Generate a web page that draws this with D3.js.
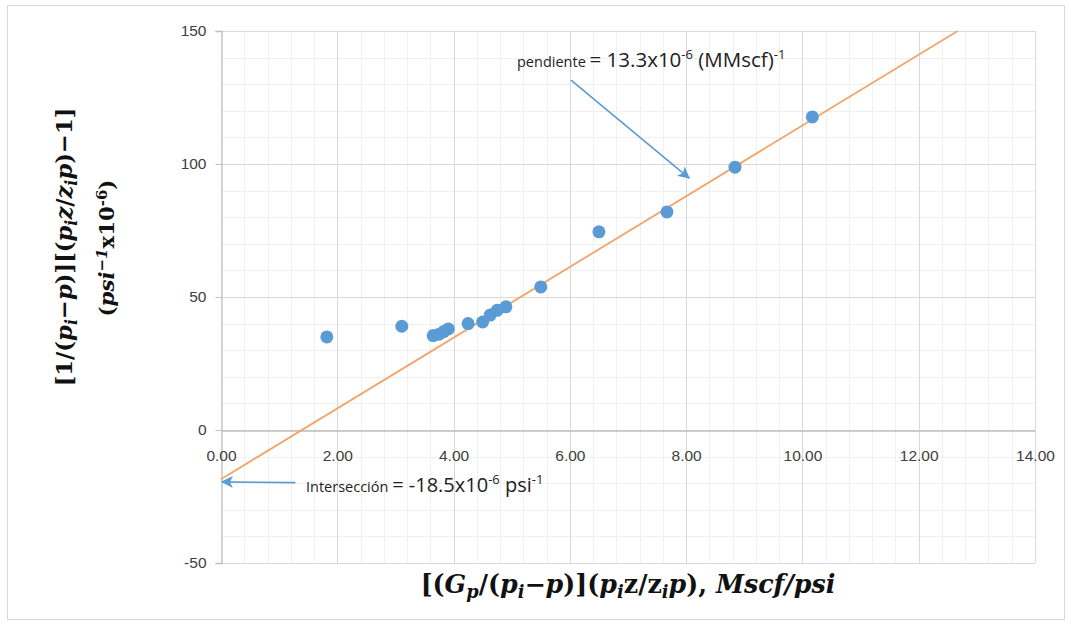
<!DOCTYPE html>
<html><head><meta charset="utf-8">
<script src="https://cdn.jsdelivr.net/npm/d3@7"></script>
<style>
body{margin:0;background:#fff;}
svg{display:block;}
</style></head>
<body>
<svg id="chart" width="1071" height="628"></svg>
<script>
// ---- data ----
const xValues = [1.82, 3.11, 3.65, 3.75, 3.83, 3.91, 4.25, 4.50, 4.63, 4.75, 4.90, 5.50, 6.50, 7.67, 8.84, 10.17];
const yValues = [35.0, 39.0, 35.5, 36.0, 37.0, 38.0, 40.0, 40.6, 43.2, 45.0, 46.3, 53.8, 74.5, 82.0, 98.8, 117.7];
const trendX = [0, 12.67];
const trendY = [-18.5, 150];
const xTicks = [0, 2, 4, 6, 8, 10, 12, 14];
const yTicks = [-50, 0, 50, 100, 150];
const slopeArrow = {from: [6.02, 131.5], to: [8.05, 94.7]};
const interArrow = {from: [1.28, -19.8], to: [0.02, -19.5]};

const svg = d3.select("#chart");
const pLeft = 221, pRight = 1035, pTop = 31, pBottom = 563;
const x = d3.scaleLinear().domain([0, 14]).range([pLeft, pRight]);
const y = d3.scaleLinear().domain([-50, 150]).range([pBottom, pTop]);

// outer border
svg.append("rect").attr("x", 7.5).attr("y", 5.5).attr("width", 1057).attr("height", 614)
  .attr("fill", "#fff").attr("stroke", "#D9D9D9").attr("stroke-width", 1);

// minor grid
const g = svg.append("g");
g.selectAll(".vmin").data(d3.range(0, 14.001, 0.4)).join("line")
  .attr("x1", d => Math.round(x(d)) + 0.5).attr("x2", d => Math.round(x(d)) + 0.5)
  .attr("y1", pTop).attr("y2", pBottom).attr("stroke", "#F0F0F0");
g.selectAll(".hmin").data(d3.range(-50, 150.001, 10)).join("line")
  .attr("y1", d => Math.round(y(d)) + 0.5).attr("y2", d => Math.round(y(d)) + 0.5)
  .attr("x1", pLeft).attr("x2", pRight).attr("stroke", "#F0F0F0");
// major grid
g.selectAll(".vmaj").data(xTicks.slice(1)).join("line")
  .attr("x1", d => Math.round(x(d)) + 0.5).attr("x2", d => Math.round(x(d)) + 0.5)
  .attr("y1", pTop).attr("y2", pBottom).attr("stroke", "#D9D9D9");
g.selectAll(".hmaj").data(yTicks).join("line")
  .attr("y1", d => Math.round(y(d)) + 0.5).attr("y2", d => Math.round(y(d)) + 0.5)
  .attr("x1", pLeft).attr("x2", pRight).attr("stroke", "#D9D9D9");

// axes
const tickFont = "15.5px 'Liberation Sans', Arial, sans-serif";
const yAxis = d3.axisLeft(y).tickValues(yTicks).tickSize(6).tickPadding(9).tickFormat(d => String(d));
const ya = svg.append("g").attr("transform", `translate(${pLeft + 0.5},0)`).call(yAxis);
ya.select(".domain").attr("stroke", "#BFBFBF").attr("stroke-width", 1.3);
ya.selectAll(".tick line").attr("stroke", "#BFBFBF");
ya.selectAll(".tick text").attr("fill", "#404040").style("font", tickFont);

const xAxis = d3.axisBottom(x).tickValues(xTicks).tickSize(0).tickPadding(19).tickFormat(d3.format(".2f"));
const xa = svg.append("g").attr("transform", `translate(0,${Math.round(y(0)) + 0.5})`).call(xAxis);
xa.select(".domain").attr("stroke", "#BFBFBF").attr("stroke-width", 1.3);
xa.selectAll(".tick text").attr("fill", "#404040").style("font", tickFont);

// trend line
svg.append("path")
  .attr("d", d3.line().x(d => x(d[0])).y(d => y(d[1]))(trendX.map((v, i) => [v, trendY[i]])))
  .attr("stroke", "#F4A46A").attr("stroke-width", 1.8).attr("fill", "none");

// points
svg.append("g").selectAll("circle").data(xValues.map((v, i) => [v, yValues[i]])).join("circle")
  .attr("cx", d => x(d[0])).attr("cy", d => y(d[1])).attr("r", 6.5).attr("fill", "#5B9BD5");

// arrows
const defs = svg.append("defs");
defs.append("marker").attr("id", "ah").attr("viewBox", "0 0 10 10").attr("refX", 9).attr("refY", 5)
  .attr("markerWidth", 15).attr("markerHeight", 12).attr("orient", "auto").attr("markerUnits", "userSpaceOnUse")
  .append("path").attr("d", "M0,0 L10,5 L0,10 L2.5,5 z").attr("fill", "#5B9BD5");
[slopeArrow, interArrow].forEach(a => {
  svg.append("line").attr("x1", x(a.from[0])).attr("y1", y(a.from[1]))
    .attr("x2", x(a.to[0])).attr("y2", y(a.to[1]))
    .attr("stroke", "#5B9BD5").attr("stroke-width", 1.6).attr("marker-end", "url(#ah)");
});

// annotations
const ann = "'Open Sans', 'Liberation Sans', sans-serif";
const t1 = svg.append("text").attr("x", 517).attr("y", 67).attr("fill", "#222").style("font-family", ann);
t1.append("tspan").style("font-size", "14.5px").text("pendiente ");
t1.append("tspan").style("font-size", "20.5px").text("= 13.3x10");
t1.append("tspan").style("font-size", "13px").attr("dy", -8).text("-6");
t1.append("tspan").style("font-size", "20.5px").attr("dy", 8).text(" (MMscf)");
t1.append("tspan").style("font-size", "13px").attr("dy", -8).text("-1");

const t2 = svg.append("text").attr("x", 306).attr("y", 492).attr("fill", "#222").style("font-family", ann);
t2.append("tspan").style("font-size", "14.5px").text("Intersección ");
t2.append("tspan").style("font-size", "20px").text("= -18.5x10");
t2.append("tspan").style("font-size", "13px").attr("dy", -8).text("-6");
t2.append("tspan").style("font-size", "20px").attr("dy", 8).text(" psi");
t2.append("tspan").style("font-size", "13px").attr("dy", -8).text("-1");

// axis titles
const serif = "'DejaVu Serif', 'Liberation Serif', serif";
function rich(sel, parts) {
  parts.forEach(p => {
    const ts = sel.append("tspan").text(p.t);
    if (p.i) ts.style("font-style", "italic");
    if (p.fs) ts.style("font-size", p.fs);
    if (p.dy) ts.attr("dy", p.dy);
  });
}
function fit(sel, target) {
  const w = sel.node().getComputedTextLength();
  const fs = parseFloat(sel.style("font-size"));
  sel.style("font-size", (fs * target / w) + "px");
}
const xt = svg.append("text").attr("x", 628).attr("y", 593).attr("text-anchor", "middle")
  .style("font-family", serif).style("font-weight", "bold").style("font-size", "22px").attr("fill", "#111");
rich(xt, [
  {t: "[("}, {t: "G", i: 1}, {t: "p", i: 1, dy: "0.3em", fs: "0.7em"}, {t: "/(", dy: "-0.21em"},
  {t: "p", i: 1}, {t: "i", i: 1, dy: "0.3em", fs: "0.7em"}, {t: "−", dy: "-0.21em"}, {t: "p", i: 1}, {t: ")](" },
  {t: "p", i: 1}, {t: "i", i: 1, dy: "0.3em", fs: "0.7em"}, {t: "z/z", dy: "-0.21em"},
  {t: "i", i: 1, dy: "0.3em", fs: "0.7em"}, {t: "p", i: 1, dy: "-0.21em"}, {t: "), "}, {t: "Mscf/psi", i: 1}
]);
fit(xt, 415);

const yt1 = svg.append("text").attr("transform", "translate(72,247) rotate(-90)").attr("text-anchor", "middle")
  .style("font-family", serif).style("font-weight", "bold").style("font-size", "22px").attr("fill", "#111");
rich(yt1, [
  {t: "[1/("}, {t: "p", i: 1}, {t: "i", i: 1, dy: "0.3em", fs: "0.7em"}, {t: "−", dy: "-0.21em"}, {t: "p", i: 1},
  {t: ")][("}, {t: "p", i: 1}, {t: "i", i: 1, dy: "0.3em", fs: "0.7em"}, {t: "z", i: 1, dy: "-0.21em"}, {t: "/"},
  {t: "z", i: 1}, {t: "i", i: 1, dy: "0.3em", fs: "0.7em"}, {t: "p", i: 1, dy: "-0.21em"}, {t: ")−1]"}
]);
fit(yt1, 279);
const yt2 = svg.append("text").attr("transform", "translate(114,248) rotate(-90)").attr("text-anchor", "middle")
  .style("font-family", serif).style("font-weight", "bold").style("font-size", "22px").attr("fill", "#111");
rich(yt2, [
  {t: "("}, {t: "psi", i: 1}, {t: "−1", i: 1, dy: "-0.45em", fs: "0.7em"}, {t: "x10", dy: "0.315em"},
  {t: "-6", dy: "-0.45em", fs: "0.7em"}, {t: ")", dy: "0.315em"}
]);
fit(yt2, 137);
</script>
</body></html>
